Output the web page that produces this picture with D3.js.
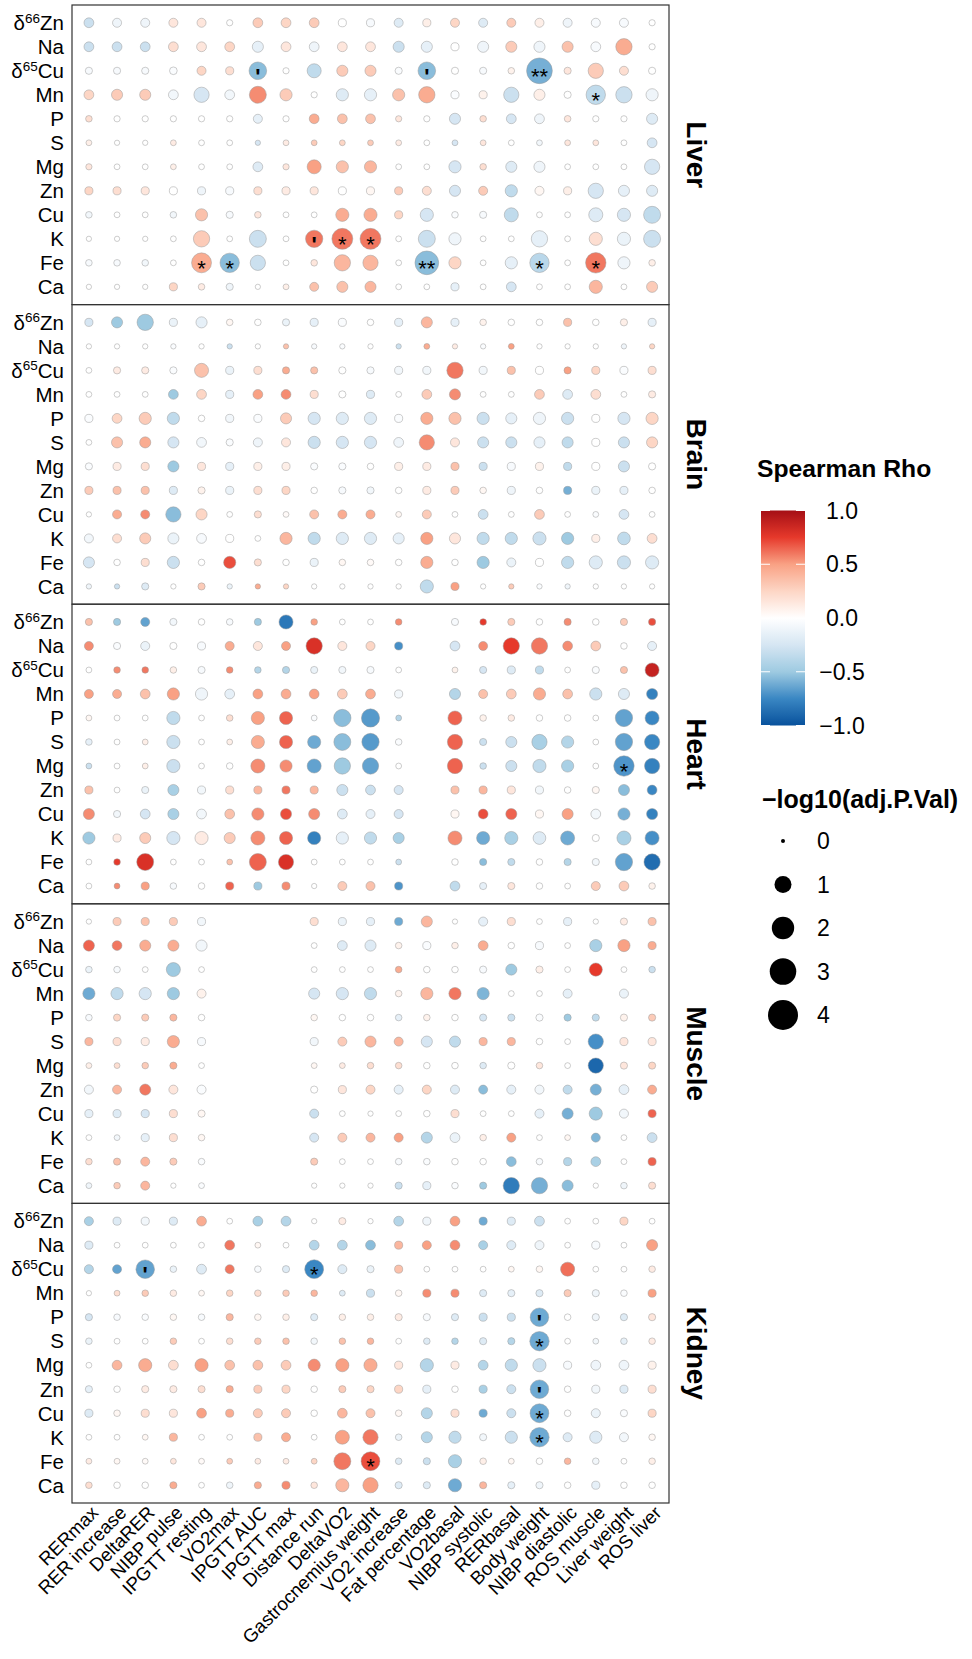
<!DOCTYPE html>
<html>
<head>
<meta charset="utf-8">
<title>Spearman correlation dot plot</title>
<script src="https://cdnjs.cloudflare.com/ajax/libs/d3/7.8.5/d3.min.js"></script>
<style>
body { margin: 0; background: #fff; }
svg text { font-family: "Liberation Sans", Arial, sans-serif; fill: #000; }
</style>
</head>
<body>
<svg id="chart" width="972" height="1659"></svg>
<script>
// ---- categories ----
var features = ["RERmax", "RER increase", "DeltaRER", "NIBP pulse", "IPGTT resting", "VO2max",
  "IPGTT AUC", "IPGTT max", "Distance run", "DeltaVO2", "Gastrocnemius weight", "VO2 increase",
  "Fat percentage", "VO2basal", "NIBP systolic", "RERbasal", "Body weight", "NIBP diastolic",
  "ROS muscle", "Liver weight", "ROS liver"]
var elements = ["δ66Zn", "Na", "δ65Cu", "Mn", "P", "S", "Mg", "Zn", "Cu", "K", "Fe", "Ca"]
var tissues = ["Liver", "Brain", "Heart", "Muscle", "Kidney"]

// ---- Spearman rho, rows = elements, cols = features (null = not tested) ----
var liverRho = [
  [-0.3,-0.1,-0.1,0.15,0.15,0,0.3,0.25,0.3,0,-0.05,-0.2,0.1,0.25,-0.2,0.3,0.1,-0.1,-0.05,-0.05,0],
  [-0.3,-0.3,-0.3,0.2,0.15,0.25,-0.15,0.15,-0.1,0.15,0.15,-0.3,-0.15,0,-0.1,0.3,-0.1,0.35,-0.05,0.45,0],
  [-0.05,-0.05,-0.05,-0.03,0.25,0.2,-0.55,0,-0.35,0.3,0.3,-0.03,-0.55,0,-0.05,0.08,-0.6,0.15,0.3,0.2,0],
  [0.25,0.3,0.3,-0.08,-0.25,-0.08,0.55,0.3,0,-0.2,-0.15,0.35,0.45,-0.03,0.08,-0.3,0.1,0,-0.35,-0.3,-0.1],
  [0.2,0,0,0,0,0,-0.15,0,0.45,0.35,0.35,0.15,0,-0.25,0.2,-0.25,-0.1,0.15,0,0,-0.2],
  [0.1,0,0,0.12,0,0,-0.25,0.12,0.3,0.25,0.3,0.12,0,-0.25,0.15,0,-0.08,0.15,0.15,0,-0.25],
  [0.15,0,0,0.1,0,0,-0.2,0.15,0.5,0.35,0.4,0,0,-0.25,0.2,-0.2,-0.1,0,0,0,-0.25],
  [0.25,0.2,0.15,0,-0.1,-0.05,0.2,0.12,0.15,0,0.05,0.3,0.2,-0.25,0.3,-0.35,0.05,0.1,-0.25,-0.15,-0.2],
  [-0.08,0,0,-0.08,0.35,-0.05,0.15,0,0,0.45,0.45,0.25,-0.25,-0.03,-0.05,-0.35,0,0,-0.2,-0.25,-0.35],
  [0,0,0,0,0.3,0,-0.3,0,0.6,0.6,0.6,0,-0.3,-0.1,0,0,-0.15,0,0.2,-0.12,-0.3],
  [-0.05,-0.05,-0.08,0,0.45,-0.55,-0.3,0,0.15,0.4,0.4,0,-0.55,0.25,0,-0.15,-0.38,0,0.6,-0.1,0.1],
  [0,0,0,0.25,0.12,-0.1,0,0.1,0.35,0.35,0.4,0,0,-0.15,0,-0.25,0,0,0.4,0,0.3]
]
var brainRho = [
  [-0.25,-0.5,-0.5,-0.12,-0.15,0.05,0,-0.12,-0.15,-0.03,0,-0.15,0.4,-0.15,0.08,0,0,0.35,0,0.1,-0.15],
  [0,0,0,-0.03,0,-0.3,0,0.35,-0.05,-0.03,0,-0.3,0.45,0.12,-0.03,0.5,0,0,0,-0.1,0.25],
  [0,0.12,0.12,-0.03,0.35,-0.12,0.2,0.45,0.35,0,-0.05,-0.08,-0.08,0.6,-0.08,0.35,0,0.5,0.25,-0.03,0.2],
  [0,0,0,-0.5,0.25,-0.15,0.5,0.55,0.2,0,-0.2,0,0.3,0.55,0,0,0.3,-0.2,0.2,0,0.12],
  [-0.03,0.25,0.3,-0.35,0,-0.08,-0.03,0.3,-0.25,-0.2,-0.2,-0.03,0.45,0.35,-0.3,-0.15,-0.1,-0.3,0,-0.25,0.25],
  [0,0.35,0.45,-0.25,-0.08,-0.03,-0.1,0.15,-0.3,-0.25,-0.25,-0.1,0.55,0.15,-0.3,-0.3,-0.15,-0.35,0,-0.3,0.25],
  [-0.03,0.12,0.2,-0.5,0.15,-0.15,0.1,0.1,-0.03,-0.03,0,0.1,0.12,0.35,-0.3,-0.05,0.08,-0.35,0,-0.3,0],
  [0.3,0.35,0.35,-0.2,0.08,-0.12,0.2,0.25,0,-0.05,-0.08,0,0.12,0.3,0.05,-0.1,0,-0.6,-0.12,-0.15,0],
  [0,0.45,0.55,-0.55,0.25,0,0.2,0.03,0.35,0.45,0.45,0.05,0.3,0,-0.3,0,0.3,0,-0.03,-0.25,0],
  [-0.08,0.2,0.3,-0.12,-0.05,0,0,0.4,-0.35,-0.2,-0.2,-0.15,0.5,0.15,-0.35,-0.35,-0.3,-0.5,0.1,-0.35,0.2],
  [-0.25,0,0.2,-0.3,0,0.7,0.2,0,-0.12,0.05,0.03,0,0.45,0,-0.5,-0.12,0,-0.35,-0.2,-0.3,-0.2],
  [-0.1,-0.3,-0.2,0,0.3,-0.12,0.45,0.25,0,0,0,0,-0.35,0.5,0,0.3,-0.03,-0.1,0,0,0]
]
var heartRho = [
  [0.35,-0.5,-0.65,-0.08,0,-0.05,-0.5,-0.82,0.5,0,0,0.55,null,-0.05,0.75,0.3,0,0.55,0,0.3,0.7],
  [0.55,-0.03,-0.12,0,-0.05,0.45,0.15,0.5,0.8,0.15,0.25,-0.72,null,-0.25,0.55,0.75,0.6,0.55,0.3,0,-0.15],
  [0,0.55,0.6,0.1,-0.05,0.55,-0.4,-0.4,-0.12,-0.08,-0.05,0,null,0.08,-0.25,-0.2,-0.35,0,-0.03,0.35,0.88],
  [0.5,0.45,0.35,0.5,-0.1,-0.15,0.5,0.45,0.5,0.3,0.45,-0.08,null,-0.4,0.35,0.3,0.45,0.35,-0.3,-0.2,-0.78],
  [0.05,0,0,-0.35,0,0.2,0.5,0.65,-0.03,-0.55,-0.68,-0.4,null,0.65,0.08,0.12,0,0,0,-0.65,-0.75],
  [-0.15,0,0.1,-0.3,0,0.1,0.45,0.65,-0.62,-0.55,-0.68,-0.03,null,0.65,-0.3,-0.3,-0.45,-0.4,0,-0.65,-0.75],
  [-0.3,0,0.1,-0.3,0,0,0.55,0.55,-0.65,-0.5,-0.65,0,null,0.65,-0.3,-0.3,-0.35,-0.45,0,-0.7,-0.78],
  [0.35,0,-0.12,-0.45,-0.08,0.2,0.4,0.6,0.4,-0.3,-0.3,-0.25,null,0.35,0.4,0.15,-0.08,0,0.05,-0.55,-0.75],
  [0.55,-0.08,-0.25,-0.45,-0.08,0.35,0.55,0.7,0.55,-0.2,-0.15,-0.25,null,0.05,0.7,0.65,0.05,0.5,-0.08,-0.6,-0.78],
  [-0.5,0.12,0.3,-0.25,0.12,0.3,0.55,0.65,-0.78,-0.15,-0.35,-0.45,null,0.55,-0.62,-0.45,-0.2,-0.62,0,-0.45,-0.72],
  [0,0.75,0.8,0,0,0.35,0.65,0.8,0,0,0,-0.3,null,0,-0.55,-0.35,0,-0.4,-0.08,-0.65,-0.87],
  [0,0.55,0.5,-0.05,0,0.65,-0.5,0.55,0,0.3,0.35,-0.7,null,-0.35,-0.15,0.15,0,0,0.3,0.3,0.08]
]
var muscleRho = [
  [0,0.3,0.35,0.3,-0.08,null,null,null,0.2,-0.12,-0.15,-0.62,0.4,0,-0.15,0.2,0,-0.15,0,0.12,0.35],
  [0.65,0.6,0.45,0.45,-0.08,null,null,null,0,-0.2,-0.2,0.08,-0.03,0.1,0.45,0,-0.05,0,-0.45,0.5,0.45],
  [-0.12,-0.05,0,-0.5,0,null,null,null,0,0,0,0.45,0,0,-0.05,-0.5,0.1,0,0.75,0,-0.3],
  [-0.62,-0.35,-0.25,-0.5,0.08,null,null,null,-0.25,-0.25,-0.35,0.08,0.4,0.6,-0.58,0,0,-0.15,null,-0.12,null],
  [-0.05,0.25,0.3,0.4,0,null,null,null,0.05,0,0,-0.15,0.08,0,-0.25,-0.3,-0.03,-0.5,-0.35,0.08,0.3],
  [0.4,0.2,0.12,0.45,-0.05,null,null,null,-0.08,0.3,0.4,0.4,-0.25,-0.35,0.4,0.4,0,0,-0.72,0.15,0.15],
  [0.1,0.2,0.3,0.45,0,null,null,null,0.05,0.12,0.2,0.2,0,0,-0.2,0,0.15,0,-0.9,0.15,0.25],
  [-0.08,0.4,0.6,0.15,-0.03,null,null,null,0,0.15,0.25,-0.15,0.25,-0.2,-0.55,-0.15,-0.08,-0.35,-0.6,-0.15,0.45],
  [-0.15,-0.2,-0.25,0.2,0.05,null,null,null,-0.3,0,0,0,0,0.2,0,0,-0.15,-0.6,-0.5,-0.08,0.65],
  [0,-0.08,-0.15,0.2,0.05,null,null,null,-0.25,0.3,0.4,0.5,-0.4,-0.12,0.1,0.5,0,0.05,-0.58,0,-0.3],
  [0.2,0.35,0.4,0.3,-0.03,null,null,null,0.3,0,0,-0.05,-0.03,0,0,-0.55,-0.05,-0.4,-0.45,0,0.65],
  [-0.1,0.3,0.4,0,-0.03,null,null,null,0,0,0,-0.3,-0.15,-0.03,-0.5,-0.8,-0.6,-0.55,0,-0.1,0.2]
]
var kidneyRho = [
  [-0.45,-0.2,-0.08,-0.2,0.45,0,-0.45,-0.4,0,0.12,0,-0.4,-0.1,0.5,-0.62,-0.2,-0.3,0,0,0.25,0],
  [-0.2,0,0,0,0,0.6,0.05,0,-0.4,-0.4,-0.55,0.4,0.5,0.55,-0.45,-0.2,-0.1,0,-0.05,0,0.5],
  [-0.4,-0.65,-0.65,-0.12,-0.2,0.6,-0.05,-0.2,-0.75,-0.2,-0.12,0.35,0,0,0,0.05,0.05,0.62,0,0,0.12],
  [0,0.2,0.3,0.12,0.05,0.25,0.2,0.3,0.4,-0.2,-0.3,0.05,0.55,0.55,-0.2,-0.15,-0.2,0.3,-0.1,-0.03,0.5],
  [-0.25,-0.05,-0.03,0.05,-0.05,0.4,0.05,0.1,-0.2,0.1,0.1,0.12,-0.05,-0.2,-0.3,-0.3,-0.62,0,-0.1,-0.2,0.15],
  [-0.12,0,0,0.3,0,0.2,0.3,0.35,-0.08,0.35,0.4,0,-0.2,-0.4,-0.2,-0.4,-0.62,0,-0.08,-0.15,0.12],
  [0,0.4,0.45,0.2,0.5,0.35,0.35,0.3,0.55,0.5,0.45,0.15,-0.4,0.12,-0.4,-0.35,-0.3,-0.05,-0.1,-0.1,0.08],
  [-0.15,0,0.12,0.12,0.2,0.45,0.3,0.25,0,0.3,0.25,0.25,-0.15,0,-0.45,-0.3,-0.62,0,-0.08,-0.2,0.2],
  [-0.2,0.05,0.2,0.15,0.5,0.45,0.3,0.3,0,0.4,0.35,0.05,-0.4,0.2,-0.62,-0.3,-0.62,0,-0.12,-0.03,0.25],
  [0,0,0.05,0.4,0,0,0.35,0.45,0,0.5,0.6,-0.12,-0.4,-0.35,-0.08,-0.3,-0.62,-0.2,-0.2,-0.08,0.05],
  [0.12,0.05,0.03,0.15,0.03,0.3,0.12,0.12,0.25,0.6,0.7,-0.2,-0.3,-0.45,0.1,0.05,0,0.4,-0.08,0,0.1],
  [0.2,0,0,0.45,0,-0.1,0.45,0.55,0.15,0.4,0.5,-0.2,-0.2,-0.62,0.4,-0.15,-0.1,0,-0.15,0,0]
]

// ---- -log10(adj.P.Val) ----
var liverP = [
  [0.2,0.15,0.15,0.15,0.15,0.03,0.2,0.2,0.2,0.1,0.1,0.15,0.1,0.15,0.15,0.15,0.15,0.15,0.15,0.15,0.03],
  [0.2,0.2,0.2,0.2,0.2,0.2,0.3,0.2,0.2,0.2,0.2,0.3,0.3,0.1,0.3,0.3,0.3,0.3,0.2,0.9,0.03],
  [0.06,0.06,0.06,0.08,0.15,0.1,1.1,0.03,0.6,0.3,0.3,0.06,1.1,0.06,0.06,0.04,2.8,0.06,0.75,0.15,0.06],
  [0.2,0.3,0.3,0.2,0.75,0.2,1.0,0.4,0.03,0.4,0.4,0.4,0.9,0.1,0.1,0.75,0.3,0.06,1.4,0.9,0.4],
  [0.04,0.03,0.03,0.03,0.03,0.03,0.15,0.03,0.2,0.2,0.2,0.03,0.03,0.3,0.04,0.2,0.2,0.04,0.03,0.03,0.3],
  [0.02,0.01,0.01,0.02,0.02,0.02,0.01,0.02,0.02,0.02,0.02,0.02,0.02,0.02,0.02,0.02,0.02,0.02,0.02,0.02,0.2],
  [0.03,0.02,0.02,0.02,0.02,0.02,0.2,0.03,0.6,0.4,0.4,0.02,0.02,0.4,0.04,0.3,0.3,0.02,0.02,0.02,0.75],
  [0.1,0.1,0.1,0.1,0.1,0.1,0.1,0.1,0.1,0.1,0.1,0.1,0.15,0.3,0.15,0.4,0.15,0.1,0.75,0.3,0.3],
  [0.04,0.02,0.02,0.04,0.4,0.06,0.04,0.02,0.02,0.5,0.5,0.1,0.5,0.04,0.06,0.6,0.02,0.02,0.6,0.5,1.0],
  [0.01,0.01,0.01,0.02,0.9,0.02,1.0,0.02,1.05,1.7,1.7,0.02,1.0,0.4,0.02,0.02,0.9,0.02,0.5,0.5,1.0],
  [0.04,0.04,0.04,0.02,1.5,1.4,0.75,0.02,0.04,0.9,0.75,0.02,2.3,0.4,0.02,0.4,1.4,0.02,1.6,0.4,0.04],
  [0.01,0.01,0.01,0.1,0.04,0.06,0.01,0.02,0.15,0.3,0.3,0.02,0.02,0.1,0.02,0.2,0.02,0.02,0.5,0.02,0.3]
]
var brainP = [
  [0.1,0.3,0.9,0.1,0.3,0.04,0.04,0.06,0.1,0.1,0.04,0.1,0.3,0.1,0.04,0.04,0.04,0.1,0.04,0.06,0.1],
  [0.01,0.01,0.01,0.01,0.01,0.01,0.01,0.01,0.01,0.01,0.01,0.01,0.02,0.01,0.01,0.02,0.01,0.01,0.01,0.01,0.01],
  [0.02,0.06,0.06,0.06,0.6,0.1,0.1,0.06,0.06,0.06,0.06,0.1,0.1,0.9,0.1,0.1,0.1,0.06,0.1,0.1,0.1],
  [0.02,0.02,0.02,0.2,0.2,0.1,0.2,0.2,0.1,0.06,0.1,0.02,0.2,0.3,0.02,0.02,0.2,0.2,0.2,0.02,0.06],
  [0.1,0.2,0.4,0.4,0.04,0.1,0.1,0.3,0.4,0.4,0.4,0.1,0.4,0.4,0.4,0.3,0.4,0.4,0.1,0.4,0.4],
  [0.02,0.3,0.3,0.3,0.2,0.06,0.15,0.15,0.4,0.4,0.4,0.2,0.75,0.15,0.3,0.3,0.3,0.3,0.1,0.3,0.3],
  [0.06,0.1,0.1,0.3,0.1,0.1,0.1,0.1,0.06,0.06,0.04,0.1,0.1,0.1,0.1,0.1,0.1,0.1,0.1,0.3,0.06],
  [0.1,0.1,0.1,0.1,0.06,0.1,0.1,0.1,0.04,0.06,0.06,0.04,0.1,0.1,0.04,0.1,0.04,0.1,0.1,0.1,0.04],
  [0.01,0.15,0.15,0.75,0.3,0.02,0.06,0.02,0.15,0.15,0.15,0.02,0.15,0.02,0.2,0.02,0.2,0.02,0.02,0.2,0.02],
  [0.15,0.15,0.3,0.3,0.2,0.1,0.02,0.4,0.4,0.4,0.4,0.3,0.4,0.3,0.4,0.4,0.5,0.4,0.1,0.45,0.2],
  [0.3,0.04,0.1,0.4,0.04,0.4,0.06,0.04,0.1,0.04,0.04,0.04,0.4,0.04,0.4,0.15,0.1,0.4,0.5,0.5,0.5],
  [0.01,0.01,0.06,0.01,0.06,0.01,0.01,0.01,0.01,0.01,0.01,0.01,0.5,0.1,0.01,0.01,0.01,0.01,0.01,0.01,0.01]
]
var heartP = [
  [0.06,0.06,0.15,0.06,0.04,0.04,0.06,0.6,0.04,0.02,0.02,0.04,null,0.06,0.04,0.06,0.04,0.06,0.04,0.06,0.06],
  [0.15,0.06,0.15,0.06,0.1,0.15,0.15,0.15,0.9,0.15,0.15,0.1,null,0.2,0.15,0.9,0.9,0.2,0.2,0.04,0.15],
  [0.02,0.04,0.04,0.04,0.06,0.04,0.04,0.06,0.06,0.06,0.06,0.02,null,0.02,0.06,0.1,0.1,0.02,0.06,0.06,0.6],
  [0.15,0.15,0.2,0.4,0.4,0.2,0.2,0.2,0.2,0.2,0.2,0.1,null,0.3,0.15,0.2,0.4,0.2,0.4,0.3,0.3],
  [0.02,0.02,0.02,0.5,0.02,0.04,0.5,0.5,0.02,1.05,1.2,0.02,null,0.6,0.04,0.04,0.04,0.04,0.02,1.05,0.6],
  [0.04,0.02,0.02,0.5,0.02,0.02,0.5,0.5,0.5,1.0,1.05,0.04,null,0.75,0.06,0.3,0.75,0.4,0.02,1.05,0.75],
  [0.02,0.02,0.02,0.5,0.02,0.04,0.6,0.4,0.6,0.9,0.9,0.02,null,0.75,0.04,0.3,0.5,0.4,0.02,1.6,0.75],
  [0.1,0.02,0.06,0.3,0.1,0.1,0.1,0.1,0.1,0.3,0.2,0.15,null,0.1,0.1,0.1,0.1,0.04,0.06,0.3,0.2],
  [0.3,0.06,0.2,0.3,0.2,0.2,0.4,0.3,0.3,0.2,0.15,0.15,null,0.1,0.2,0.3,0.1,0.3,0.2,0.4,0.3],
  [0.4,0.1,0.3,0.5,0.5,0.3,0.6,0.5,0.5,0.4,0.4,0.3,null,0.6,0.5,0.5,0.45,0.6,0.06,0.6,0.6],
  [0.02,0.04,1.0,0.02,0.02,0.02,1.0,0.75,0.02,0.02,0.02,0.02,null,0.04,0.06,0.06,0.04,0.06,0.06,1.05,0.9],
  [0.02,0.02,0.1,0.04,0.04,0.1,0.1,0.1,0.01,0.15,0.15,0.1,null,0.2,0.06,0.06,0.04,0.02,0.15,0.2,0.04]
]
var muscleP = [
  [0.01,0.1,0.1,0.1,0.1,null,null,null,0.1,0.1,0.1,0.1,0.3,0.01,0.15,0.1,0.02,0.1,0.01,0.06,0.1],
  [0.3,0.2,0.3,0.3,0.3,null,null,null,0.02,0.2,0.3,0.04,0.1,0.04,0.2,0.04,0.1,0.02,0.4,0.4,0.1],
  [0.04,0.04,0.02,0.6,0.02,null,null,null,0.02,0.02,0.02,0.04,0.04,0.04,0.06,0.3,0.06,0.02,0.5,0.02,0.04],
  [0.4,0.4,0.4,0.4,0.15,null,null,null,0.3,0.4,0.4,0.04,0.4,0.4,0.4,0.02,0.02,0.15,null,0.15,null],
  [0.04,0.06,0.06,0.06,0.04,null,null,null,0.04,0.04,0.04,0.04,0.04,0.04,0.06,0.06,0.06,0.06,0.06,0.06,0.06],
  [0.1,0.1,0.1,0.4,0.1,null,null,null,0.1,0.15,0.3,0.15,0.3,0.3,0.1,0.1,0.04,0.02,0.75,0.1,0.1],
  [0.02,0.02,0.04,0.06,0.02,null,null,null,0.02,0.02,0.04,0.04,0.04,0.04,0.04,0.06,0.04,0.02,0.75,0.06,0.06],
  [0.15,0.15,0.3,0.15,0.15,null,null,null,0.06,0.1,0.15,0.15,0.15,0.15,0.15,0.15,0.15,0.15,0.3,0.2,0.15],
  [0.1,0.1,0.1,0.1,0.06,null,null,null,0.15,0.02,0.01,0.02,0.04,0.1,0.02,0.02,0.15,0.3,0.5,0.15,0.1],
  [0.02,0.02,0.1,0.1,0.04,null,null,null,0.15,0.15,0.15,0.15,0.3,0.2,0.04,0.15,0.02,0.02,0.15,0.02,0.2],
  [0.04,0.06,0.15,0.06,0.04,null,null,null,0.06,0.02,0.02,0.04,0.04,0.04,0.04,0.2,0.04,0.1,0.2,0.02,0.1],
  [0.02,0.04,0.15,0.01,0.02,null,null,null,0.01,0.01,0.01,0.06,0.1,0.04,0.06,0.9,0.9,0.3,0.01,0.04,0.06]
]
var kidneyP = [
  [0.15,0.1,0.1,0.1,0.2,0.02,0.2,0.2,0.01,0.06,0.01,0.2,0.1,0.2,0.1,0.1,0.2,0.02,0.02,0.1,0.02],
  [0.1,0.02,0.02,0.02,0.02,0.2,0.02,0.02,0.2,0.2,0.2,0.1,0.15,0.2,0.15,0.15,0.15,0.02,0.1,0.02,0.3],
  [0.15,0.15,1.25,0.04,0.2,0.15,0.04,0.06,1.3,0.15,0.06,0.1,0.02,0.02,0.02,0.02,0.04,0.6,0.02,0.02,0.04],
  [0.01,0.02,0.04,0.04,0.02,0.04,0.04,0.04,0.04,0.02,0.1,0.04,0.1,0.1,0.06,0.06,0.06,0.06,0.06,0.04,0.1],
  [0.06,0.04,0.04,0.04,0.04,0.06,0.04,0.04,0.06,0.04,0.04,0.06,0.06,0.06,0.1,0.1,1.25,0.04,0.06,0.06,0.06],
  [0.04,0.02,0.02,0.04,0.02,0.04,0.04,0.04,0.04,0.04,0.04,0.02,0.04,0.04,0.06,0.06,1.4,0.02,0.02,0.04,0.04],
  [0.02,0.2,0.5,0.2,0.5,0.2,0.2,0.2,0.4,0.5,0.5,0.1,0.5,0.1,0.2,0.4,0.5,0.1,0.2,0.2,0.1],
  [0.06,0.04,0.06,0.06,0.06,0.06,0.1,0.1,0.04,0.06,0.06,0.1,0.1,0.04,0.1,0.15,1.25,0.04,0.1,0.1,0.1],
  [0.1,0.04,0.1,0.1,0.2,0.1,0.15,0.15,0.04,0.2,0.15,0.04,0.3,0.1,0.1,0.15,1.3,0.04,0.15,0.06,0.1],
  [0.02,0.02,0.02,0.1,0.02,0.02,0.1,0.15,0.02,0.6,0.75,0.04,0.3,0.4,0.06,0.4,1.4,0.15,0.4,0.15,0.04],
  [0.02,0.02,0.02,0.02,0.02,0.02,0.02,0.02,0.02,1.0,1.3,0.04,0.06,0.5,0.04,0.02,0.04,0.04,0.04,0.02,0.04],
  [0.04,0.04,0.04,0.06,0.02,0.04,0.06,0.1,0.04,0.5,0.75,0.06,0.06,0.5,0.06,0.06,0.06,0.04,0.1,0.04,0.04]
]

// ---- significance marks: [tissue, element, feature, label] ----
var signifMarks = [
  ["Liver", "δ65Cu", "IPGTT AUC", "'"],
  ["Liver", "δ65Cu", "Fat percentage", "'"],
  ["Liver", "δ65Cu", "Body weight", "**"],
  ["Liver", "Mn", "ROS muscle", "*"],
  ["Liver", "K", "Distance run", "'"],
  ["Liver", "K", "DeltaVO2", "*"],
  ["Liver", "K", "Gastrocnemius weight", "*"],
  ["Liver", "Fe", "IPGTT resting", "*"],
  ["Liver", "Fe", "VO2max", "*"],
  ["Liver", "Fe", "Fat percentage", "**"],
  ["Liver", "Fe", "Body weight", "*"],
  ["Liver", "Fe", "ROS muscle", "*"],
  ["Heart", "Mg", "Liver weight", "*"],
  ["Kidney", "δ65Cu", "DeltaRER", "'"],
  ["Kidney", "δ65Cu", "Distance run", "*"],
  ["Kidney", "P", "Body weight", "'"],
  ["Kidney", "S", "Body weight", "*"],
  ["Kidney", "Zn", "Body weight", "'"],
  ["Kidney", "Cu", "Body weight", "*"],
  ["Kidney", "K", "Body weight", "*"],
  ["Kidney", "Fe", "Gastrocnemius weight", "*"]
]

var rhoTicks = [1, 0.5, 0, -0.5, -1]
var sizeBreaks = [0, 1, 2, 3, 4]

var rhoByTissue = { Liver: liverRho, Brain: brainRho, Heart: heartRho, Muscle: muscleRho, Kidney: kidneyRho }
var pByTissue = { Liver: liverP, Brain: brainP, Heart: heartP, Muscle: muscleP, Kidney: kidneyP }

// long table for the library
var cells = []
tissues.forEach(function(t) {
  elements.forEach(function(e, i) {
    features.forEach(function(f, j) {
      var rho = rhoByTissue[t][i][j]
      if (rho === null) return
      cells.push({ tissue: t, element: e, feature: f, rho: rho, logp: pByTissue[t][i][j] })
    })
  })
})

// ---- layout ----
var plotLeft = 72, plotRight = 669, plotTop = 5, panelH = 299.6

var svg = d3.select('#chart')

var x = d3.scalePoint().domain(features).range([plotLeft, plotRight]).padding(0.6)
var y = d3.scalePoint().domain(elements).range([0, panelH]).padding(0.74)
var panelY = d3.scaleBand().domain(tissues).range([plotTop, plotTop + panelH * tissues.length])
var size = d3.scaleSqrt().domain([0, 4]).range([2, 15])
var color = d3.scaleLinear()
  .domain([-1, -0.75, -0.5, -0.25, 0, 0.25, 0.5, 0.75, 1])
  .range(["#08519c", "#3a87c3", "#9ecae1", "#d6e6f3", "#ffffff", "#fdd6c5", "#f9a184", "#e6392b", "#a50f15"])
  .clamp(true)

function elementLabel(sel) {
  sel.each(function(d) {
    var t = d3.select(this)
    if (d.charAt(0) === 'δ') {
      t.append('tspan').text('δ')
      t.append('tspan').attr('font-size', 13.5).attr('dy', -7.5).text(d.slice(1, 3))
      t.append('tspan').attr('dy', 7.5).text(d.slice(3))
    } else {
      t.text(d)
    }
  })
}

tissues.forEach(function(t) {
  var g = svg.append('g').attr('transform', 'translate(0,' + panelY(t) + ')')

  g.selectAll('circle')
    .data(cells.filter(function(d) { return d.tissue === t }))
    .enter().append('circle')
    .attr('cx', function(d) { return x(d.feature) })
    .attr('cy', function(d) { return y(d.element) })
    .attr('r', function(d) { return size(d.logp) })
    .attr('fill', function(d) { return color(d.rho) })
    .attr('stroke', '#9a9a9a')
    .attr('stroke-width', 0.5)

  g.selectAll('text.sig')
    .data(signifMarks.filter(function(d) { return d[0] === t }))
    .enter().append('text')
    .attr('class', 'sig')
    .attr('x', function(d) { return x(d[2]) })
    .attr('y', function(d) { return y(d[1]) + 13 })
    .attr('text-anchor', 'middle')
    .attr('font-size', 22)
    .attr('font-weight', function(d) { return d[3] === "'" ? 'bold' : 'normal' })
    .text(function(d) { return d[3] })

  g.append('rect')
    .attr('x', plotLeft).attr('y', 0)
    .attr('width', plotRight - plotLeft).attr('height', panelH)
    .attr('fill', 'none').attr('stroke', '#333').attr('stroke-width', 1.2)

  g.selectAll('text.ylab')
    .data(elements)
    .enter().append('text')
    .attr('class', 'ylab')
    .attr('x', 64)
    .attr('y', function(d) { return y(d) + 7.3 })
    .attr('text-anchor', 'end')
    .attr('font-size', 20.5)
    .call(elementLabel)

  g.append('text')
    .attr('transform', 'translate(687,' + (panelH / 2) + ') rotate(90)')
    .attr('text-anchor', 'middle')
    .attr('font-size', 28)
    .attr('font-weight', 'bold')
    .text(t)
})

// x axis labels
var bottom = plotTop + panelH * tissues.length
svg.selectAll('text.xlab')
  .data(features)
  .enter().append('text')
  .attr('class', 'xlab')
  .attr('transform', function(d) { return 'translate(' + (x(d) + 10.5) + ',' + (bottom + 11) + ') rotate(-45)' })
  .attr('text-anchor', 'end')
  .attr('font-size', 18.7)
  .text(function(d) { return d })

// ---- colour legend ----
var defs = svg.append('defs')
var grad = defs.append('linearGradient').attr('id', 'rhoGrad')
  .attr('x1', 0).attr('y1', 1).attr('x2', 0).attr('y2', 0)
d3.range(-1, 1.0001, 0.05).forEach(function(v) {
  grad.append('stop').attr('offset', (v + 1) / 2).attr('stop-color', color(v))
})

var barX = 761, barW = 44, barTop = 510.5, barBot = 725.5
var barY = d3.scaleLinear().domain([-1, 1]).range([barBot, barTop])

svg.append('text').attr('x', 757).attr('y', 477)
  .attr('font-size', 24.7).attr('font-weight', 'bold').text('Spearman Rho')

svg.append('rect').attr('x', barX).attr('y', barTop)
  .attr('width', barW).attr('height', barBot - barTop)
  .attr('fill', 'url(#rhoGrad)')

rhoTicks.forEach(function(v) {
  var yy = barY(v)
  svg.append('line').attr('x1', barX).attr('x2', barX + 9).attr('y1', yy).attr('y2', yy)
    .attr('stroke', '#fff').attr('stroke-width', 1)
  svg.append('line').attr('x1', barX + barW - 9).attr('x2', barX + barW).attr('y1', yy).attr('y2', yy)
    .attr('stroke', '#fff').attr('stroke-width', 1)
  svg.append('text').attr('x', 842).attr('y', yy + 8.2)
    .attr('text-anchor', 'middle')
    .attr('font-size', 23)
    .text(d3.format('.1f')(v).replace('-', '−'))
})

// ---- size legend ----
svg.append('text').attr('x', 762).attr('y', 808)
  .attr('font-size', 25).attr('font-weight', 'bold').text('−log10(adj.P.Val)')

sizeBreaks.forEach(function(v, i) {
  var cy = 841 + i * 43.5
  svg.append('circle').attr('cx', 783).attr('cy', cy).attr('r', size(v)).attr('fill', '#000')
  svg.append('text').attr('x', 817).attr('y', cy + 8.2).attr('font-size', 23).text(v)
})
</script>
</body>
</html>
